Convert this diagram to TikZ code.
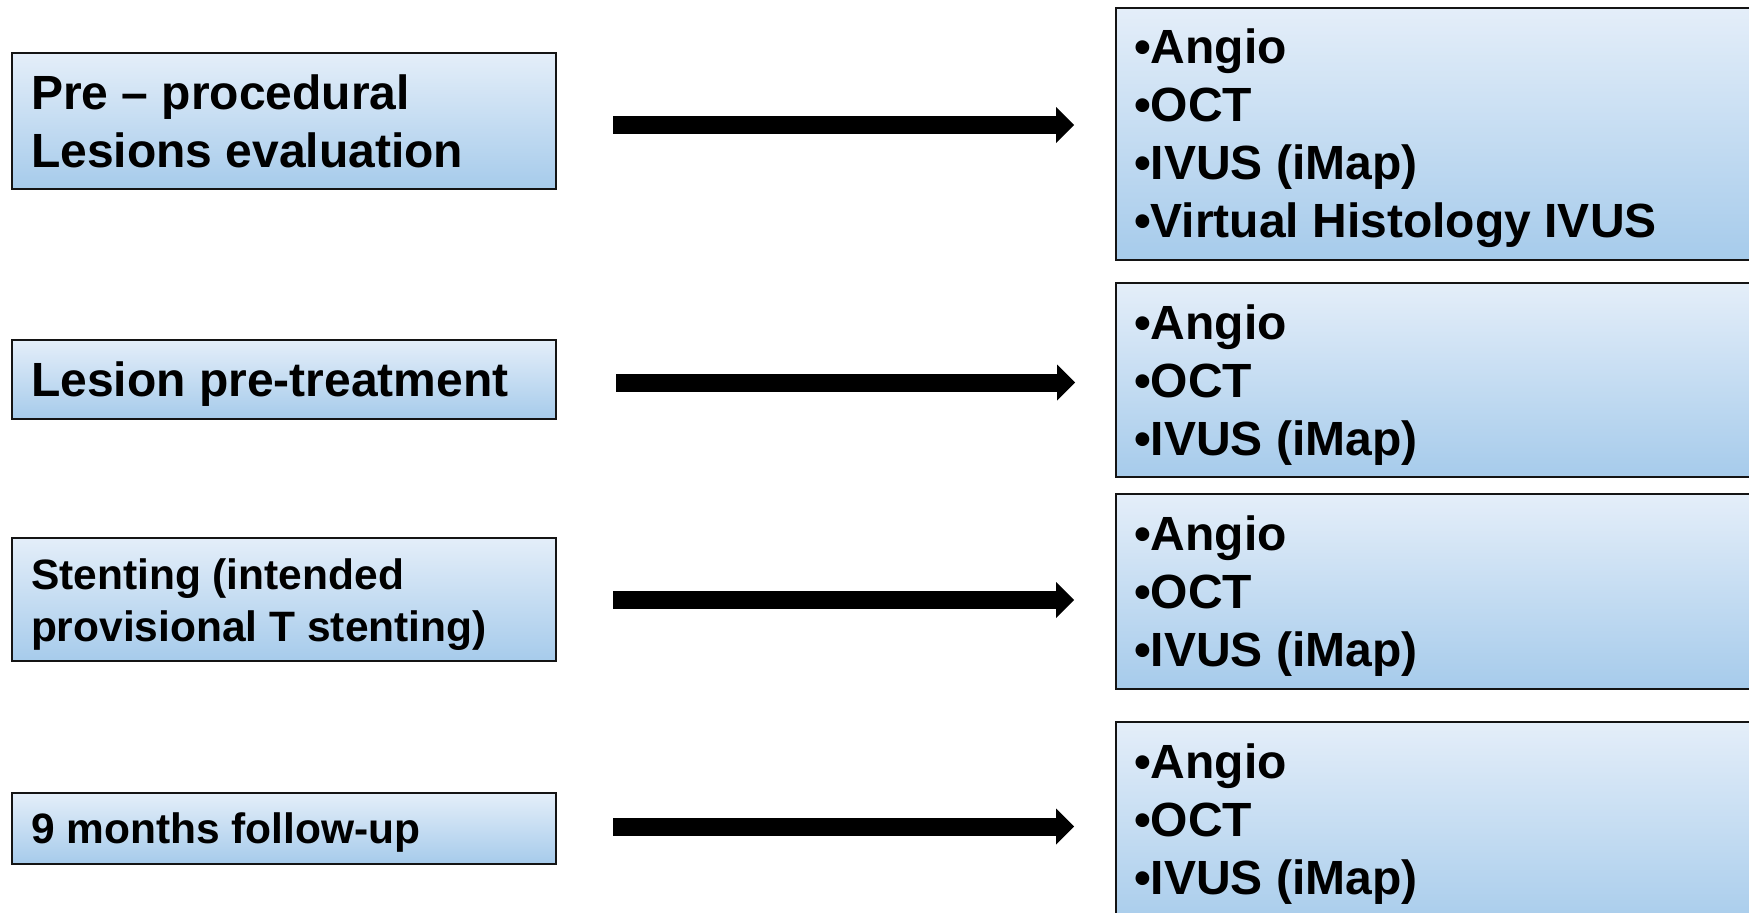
\documentclass[tikz,border=0pt]{standalone}
\usepackage{fontspec}
\setmainfont{Liberation Sans}
\usetikzlibrary{arrows.meta}
\definecolor{boxtop}{RGB}{228,238,249}
\definecolor{boxbot}{RGB}{166,203,235}
\definecolor{boxline}{RGB}{20,20,20}
\newcommand\mybx[4]{\parbox[c][#1][t]{#2}{\raggedright\rule{0pt}{#3}#4}}
\begin{document}
\begin{tikzpicture}[x=1pt,y=-1pt,
  gbox/.style={rectangle, draw=boxline, line width=2pt, top color=boxtop, bottom color=boxbot,
               inner xsep=19pt, inner ysep=0pt, anchor=north west},
  bigtxt/.style={font=\bfseries\fontsize{48}{58}\selectfont},
  smalltxt/.style={font=\bfseries\fontsize{42.5}{52}\selectfont},
  bigarrow/.style={line width=18pt, -{Triangle[length=18pt,width=36pt,line width=0pt]}}]
\useasboundingbox (0,0) rectangle (1749,913);
\clip (0,0) rectangle (1749,913);

% left boxes
\node[gbox,bigtxt] (L1) at (11,52) {\mybx{136pt}{506pt}{56pt}{Pre – procedural\\Lesions evaluation}};
\node[gbox,bigtxt] (L2) at (11,339) {\mybx{79pt}{506pt}{56pt}{Lesion pre-treatment}};
\node[gbox,smalltxt] (L3) at (11,537) {\mybx{123pt}{506pt}{51pt}{Stenting (intended\\provisional T stenting)}};
\node[gbox,smalltxt] (L4) at (11,792) {\mybx{71pt}{506pt}{50pt}{9 months follow-up}};

% right boxes
\node[gbox,bigtxt,inner xsep=18pt] (R1) at (1115,7) {\mybx{252pt}{624pt}{55pt}{•Angio\\•OCT\\•IVUS (iMap)\\•Virtual Histology IVUS}};
\node[gbox,bigtxt,inner xsep=18pt] (R2) at (1115,282) {\mybx{194pt}{624pt}{56pt}{•Angio\\•OCT\\•IVUS (iMap)}};
\node[gbox,bigtxt,inner xsep=18pt] (R3) at (1115,493) {\mybx{195pt}{624pt}{56pt}{•Angio\\•OCT\\•IVUS (iMap)}};
\node[gbox,bigtxt,inner xsep=18pt] (R4) at (1115,721) {\mybx{210pt}{624pt}{56pt}{•Angio\\•OCT\\•IVUS (iMap)}};

% arrows
\coordinate (a1s) at (613,125);   \coordinate (a1e) at (1074,125);
\coordinate (a2s) at (616,382.5); \coordinate (a2e) at (1075,382.5);
\coordinate (a3s) at (613,600);   \coordinate (a3e) at (1074,600);
\coordinate (a4s) at (613,826.5); \coordinate (a4e) at (1074,826.5);
\draw[bigarrow] (a1s) -- (a1e);
\draw[bigarrow] (a2s) -- (a2e);
\draw[bigarrow] (a3s) -- (a3e);
\draw[bigarrow] (a4s) -- (a4e);
\end{tikzpicture}
\end{document}
